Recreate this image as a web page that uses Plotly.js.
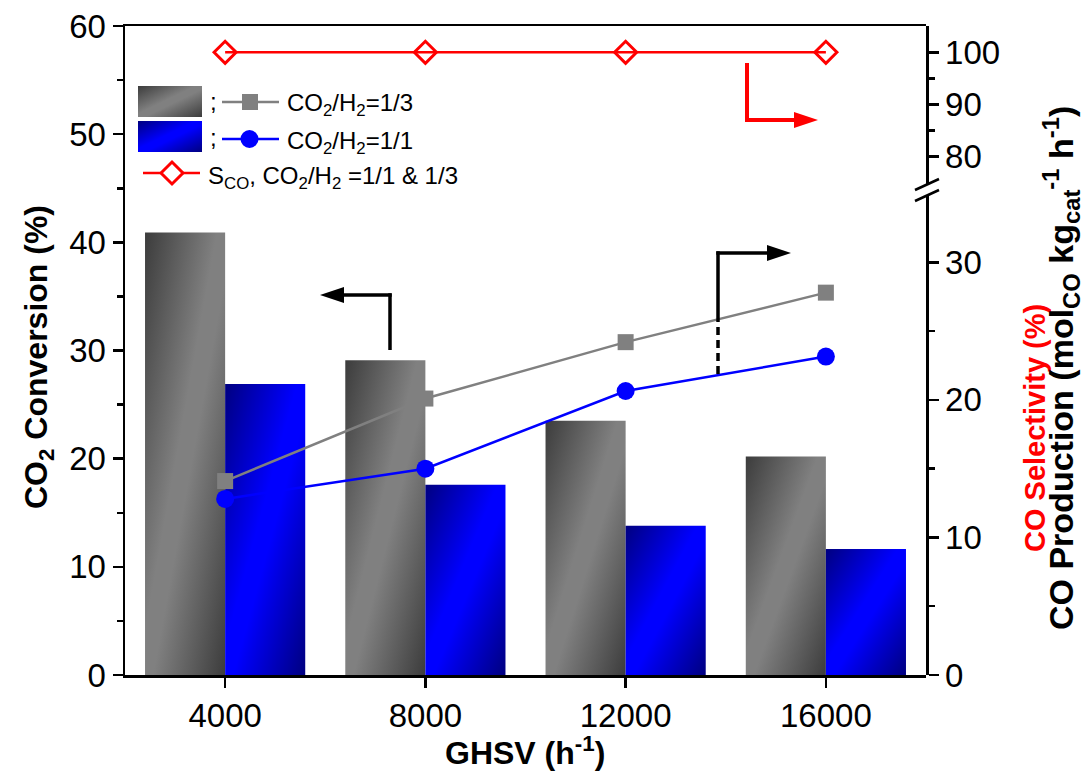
<!DOCTYPE html>
<html><head><meta charset="utf-8">
<script src="https://cdn.plot.ly/plotly-3.0.1.min.js"></script>
<style>html,body{margin:0;padding:0;background:#fff;} #chart{width:1086px;height:775px;}</style>
</head><body><div id="chart"></div>
<script>
// ---- data ----
const ghsv = [4000, 8000, 12000, 16000];
const xTickLabels = ['4000', '8000', '12000', '16000'];
const conv13 = [40.9, 29.1, 23.5, 20.2];      // CO2 conversion, CO2/H2=1/3 (%)
const conv11 = [26.9, 17.6, 13.8, 11.65];     // CO2 conversion, CO2/H2=1/1 (%)
const prod13 = [14.1, 20.1, 24.2, 27.8];      // CO production, CO2/H2=1/3
const prod11 = [12.8, 15.0, 20.65, 23.15];    // CO production, CO2/H2=1/1
const selCO = [100, 100, 100, 100];           // CO selectivity (%)

// ---- geometry helpers (pixel -> paper) ----
const L = 125, R = 926, T = 26, B = 675;
const px = x => (x - L) / (R - L);
const py = y => (B - y) / (B - T);
const FONT = 'Arial, "Liberation Sans", sans-serif';

const axCommon = {
  showline: true, linecolor: '#000', linewidth: 2.5, ticks: 'outside', ticklen: 10,
  tickwidth: 2.5, tickcolor: '#000', showgrid: false, zeroline: false,
  tickfont: {family: FONT, size: 33, color: '#000'}
};
const minorCommon = {ticks: 'outside', ticklen: 6, tickwidth: 2.5, tickcolor: '#000', showgrid: false};

const data = [
  {type: 'bar', x: ghsv, y: conv13, offset: -1600, width: 1600, xaxis: 'x', yaxis: 'y',
   marker: {color: '#808080', line: {width: 0}}, showlegend: false, hoverinfo: 'skip'},
  {type: 'bar', x: ghsv, y: conv11, offset: 0, width: 1600, xaxis: 'x', yaxis: 'y',
   marker: {color: '#0000ff', line: {width: 0}}, showlegend: false, hoverinfo: 'skip'},
  {type: 'scatter', mode: 'lines+markers', x: ghsv, y: prod13, xaxis: 'x', yaxis: 'y2',
   line: {color: '#808080', width: 2.5}, marker: {symbol: 'square', size: 16, color: '#808080'},
   cliponaxis: false, showlegend: false},
  {type: 'scatter', mode: 'lines+markers', x: ghsv, y: prod11, xaxis: 'x', yaxis: 'y2',
   line: {color: '#0000ff', width: 2.5}, marker: {symbol: 'circle', size: 18, color: '#0000ff'},
   cliponaxis: false, showlegend: false},
  {type: 'scatter', mode: 'lines+markers', x: ghsv, y: selCO, xaxis: 'x', yaxis: 'y3',
   line: {color: '#ff0000', width: 2.5},
   marker: {symbol: 'diamond-open', size: 17, color: '#ff0000', line: {color: '#ff0000', width: 3}},
   cliponaxis: false, showlegend: false}
];

const shapes = [
  // legend boxes (gradient applied after render) - indices 0,1
  {type: 'rect', xref: 'paper', yref: 'paper', x0: px(138), x1: px(202), y0: py(117), y1: py(86), fillcolor: '#808080', line: {width: 0}},
  {type: 'rect', xref: 'paper', yref: 'paper', x0: px(138), x1: px(202), y0: py(152), y1: py(121), fillcolor: '#0000ff', line: {width: 0}},
  // legend line symbols
  {type: 'line', xref: 'paper', yref: 'paper', x0: px(222), x1: px(279), y0: py(102), y1: py(102), line: {color: '#808080', width: 2.5}},
  {type: 'rect', xref: 'paper', yref: 'paper', x0: px(242), x1: px(258), y0: py(110), y1: py(94), fillcolor: '#808080', line: {width: 0}},
  {type: 'line', xref: 'paper', yref: 'paper', x0: px(222), x1: px(279), y0: py(139), y1: py(139), line: {color: '#0000ff', width: 2.5}},
  {type: 'circle', xref: 'paper', yref: 'paper', x0: px(240.5), x1: px(258.5), y0: py(148), y1: py(130), fillcolor: '#0000ff', line: {width: 0}},
  {type: 'line', xref: 'paper', yref: 'paper', x0: px(143), x1: px(200), y0: py(173), y1: py(173), line: {color: '#ff0000', width: 2.5}},
  {type: 'path', xref: 'paper', yref: 'paper',
   path: `M ${px(161)},${py(173)} L ${px(172)},${py(162)} L ${px(183)},${py(173)} L ${px(172)},${py(184)} Z`,
   fillcolor: '#ffffff', line: {color: '#ff0000', width: 3}},
  // left arrow (to CO2 conversion axis)
  {type: 'line', xref: 'paper', yref: 'paper', x0: px(390), x1: px(390), y0: py(350), y1: py(293.3), line: {color: '#000', width: 3.5}},
  {type: 'line', xref: 'paper', yref: 'paper', x0: px(391.7), x1: px(342), y0: py(295), y1: py(295), line: {color: '#000', width: 3.5}},
  {type: 'path', xref: 'paper', yref: 'paper',
   path: `M ${px(320)},${py(295)} L ${px(344)},${py(287)} L ${px(344)},${py(303)} Z`, fillcolor: '#000', line: {width: 0}},
  // right arrow (to CO production axis)
  {type: 'line', xref: 'paper', yref: 'paper', x0: px(718), x1: px(718), y0: py(374), y1: py(317), line: {color: '#000', width: 3.5, dash: '8px,5px'}},
  {type: 'line', xref: 'paper', yref: 'paper', x0: px(718), x1: px(718), y0: py(317), y1: py(251.3), line: {color: '#000', width: 3.5}},
  {type: 'line', xref: 'paper', yref: 'paper', x0: px(716.3), x1: px(769), y0: py(253), y1: py(253), line: {color: '#000', width: 3.5}},
  {type: 'path', xref: 'paper', yref: 'paper',
   path: `M ${px(791)},${py(253)} L ${px(767)},${py(245)} L ${px(767)},${py(261)} Z`, fillcolor: '#000', line: {width: 0}},
  // red arrow (to selectivity axis)
  {type: 'line', xref: 'paper', yref: 'paper', x0: px(747), x1: px(747), y0: py(63), y1: py(122), line: {color: '#ff0000', width: 4}},
  {type: 'line', xref: 'paper', yref: 'paper', x0: px(745), x1: px(797), y0: py(120), y1: py(120), line: {color: '#ff0000', width: 4}},
  {type: 'path', xref: 'paper', yref: 'paper',
   path: `M ${px(818)},${py(120)} L ${px(794)},${py(112)} L ${px(794)},${py(128)} Z`, fillcolor: '#ff0000', line: {width: 0}},
  // axis break marks
  {type: 'line', xref: 'paper', yref: 'paper', x0: px(915), x1: px(939), y0: py(190), y1: py(179), line: {color: '#000', width: 2.5}},
  {type: 'line', xref: 'paper', yref: 'paper', x0: px(915), x1: px(939), y0: py(201), y1: py(190), line: {color: '#000', width: 2.5}}
];

const legFont = {family: FONT, size: 24, color: '#000'};
const titleFont = {family: FONT, size: 32, color: '#000', weight: 'bold'};
const ann = (text, x, y, extra) => Object.assign({text, x, y, xref: 'paper', yref: 'paper', showarrow: false,
  xanchor: 'left', yanchor: 'middle', font: legFont}, extra || {});

const annotations = [
  ann(';', px(208), py(101)),
  ann('CO<sub>2</sub>/H<sub>2</sub>=1/3', px(285), py(105)),
  ann(';', px(208), py(138)),
  ann('CO<sub>2</sub>/H<sub>2</sub>=1/1', px(285), py(142)),
  ann('S<sub>CO</sub>, CO<sub>2</sub>/H<sub>2</sub> =1/1 &amp; 1/3', px(206), py(177)),
  ann('CO<sub>2</sub> Conversion (%)', px(38), py(357), {xanchor: 'center', textangle: -90, font: titleFont}),
  ann('GHSV (h<sup>-1</sup>)', px(525), py(751), {xanchor: 'center', font: titleFont}),
  ann('CO Selectivity (%)', px(1035), py(428), {xanchor: 'center', textangle: -90,
      font: Object.assign({}, titleFont, {size: 29, color: '#ff0000'})}),
  ann('CO Production (mol<sub>CO</sub> kg<sub>cat</sub><sup>-1</sup> h<sup>-1</sup>)', px(1061), py(368),
      {xanchor: 'center', textangle: -90, font: Object.assign({}, titleFont, {size: 34})})
];

const layout = {
  width: 1086, height: 775,
  margin: {l: L, r: 1086 - R, t: T, b: 775 - B, pad: 0},
  paper_bgcolor: '#ffffff', plot_bgcolor: 'rgba(0,0,0,0)',
  font: {family: FONT, color: '#000'},
  showlegend: false, barmode: 'overlay',
  xaxis: Object.assign({}, axCommon, {range: [2000, 18000], domain: [0, 1], anchor: 'y',
    tickmode: 'array', tickvals: ghsv, ticktext: xTickLabels, mirror: true}),
  yaxis: Object.assign({}, axCommon, {range: [0, 60], domain: [0, 1], anchor: 'x', side: 'left',
    tick0: 0, dtick: 10, minor: Object.assign({}, minorCommon, {tick0: 0, dtick: 5})}),
  yaxis2: Object.assign({}, axCommon, {range: [0, 34.9], domain: [0, py(195)], anchor: 'x', side: 'right',
    tick0: 0, dtick: 10, minor: Object.assign({}, minorCommon, {tick0: 0, dtick: 5})}),
  yaxis3: Object.assign({}, axCommon, {range: [74.67, 105.06], domain: [py(184), 1], anchor: 'x', side: 'right',
    tickmode: 'array', tickvals: [80, 90, 100],
    minor: Object.assign({}, minorCommon, {tickmode: 'array', tickvals: [85, 95]})}),
  shapes, annotations
};

Plotly.newPlot('chart', data, layout, {staticPlot: true, displayModeBar: false}).then(gd => {
  const ns = 'http://www.w3.org/2000/svg';
  const svg = gd.querySelector('svg.main-svg');
  let defs = svg.querySelector('defs');
  if (!defs) { defs = document.createElementNS(ns, 'defs'); svg.insertBefore(defs, svg.firstChild); }
  const mkGrad = (id, stops) => {
    const g = document.createElementNS(ns, 'linearGradient');
    g.setAttribute('id', id);
    g.setAttribute('x1', '0'); g.setAttribute('y1', '0'); g.setAttribute('x2', '1'); g.setAttribute('y2', '1');
    stops.forEach(([o, c]) => {
      const s = document.createElementNS(ns, 'stop');
      s.setAttribute('offset', o); s.setAttribute('stop-color', c); g.appendChild(s);
    });
    defs.appendChild(g);
  };
  mkGrad('gradGray', [[0, '#3c3c3c'], [0.45, '#808080'], [0.55, '#808080'], [1, '#3c3c3c']]);
  mkGrad('gradBlue', [[0, '#000080'], [0.45, '#0000ff'], [0.55, '#0000ff'], [1, '#000080']]);
  const traces = gd.querySelectorAll('.barlayer .trace');
  if (traces[0]) traces[0].querySelectorAll('path').forEach(p => p.style.fill = 'url(#gradGray)');
  if (traces[1]) traces[1].querySelectorAll('path').forEach(p => p.style.fill = 'url(#gradBlue)');
  const s0 = gd.querySelector('.shapelayer path[data-index="0"]');
  const s1 = gd.querySelector('.shapelayer path[data-index="1"]');
  if (s0) s0.style.fill = 'url(#gradGray)';
  if (s1) s1.style.fill = 'url(#gradBlue)';
});
</script>
</body></html>
